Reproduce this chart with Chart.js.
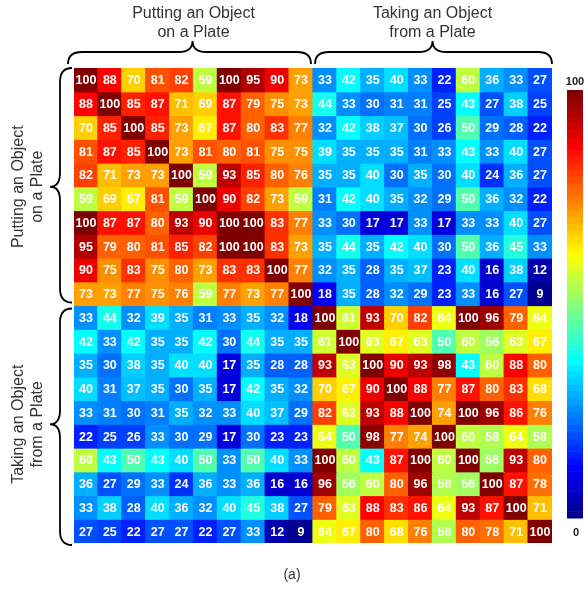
<!DOCTYPE html>
<html lang="en">

<head>
  <meta charset="UTF-8">
  <title>Heatmap</title>
  <style>
    body { margin: 0; background: #fff; }
  </style>
</head>

<body>
  <canvas id="grafico1" width="584" height="589"></canvas>

  <script src="https://cdn.jsdelivr.net/npm/chart.js"></script>

  <script>
    // grupos e valores (linha por linha, 20 colunas cada)
    const grupos = [["Putting an Object", "on a Plate"], ["Taking an Object", "from a Plate"]]
    const colunas = ["1","2","3","4","5","6","7","8","9","10","11","12","13","14","15","16","17","18","19","20"]

    const linha1  = [100,88,70,81,82,59,100,95,90,73, 33,42,35,40,33,22,60,36,33,27]
    const linha2  = [88,100,85,87,71,69,87,79,75,73, 44,33,30,31,31,25,43,27,38,25]
    const linha3  = [70,85,100,85,73,67,87,80,83,77, 32,42,38,37,30,26,50,29,28,22]
    const linha4  = [81,87,85,100,73,81,80,81,75,75, 39,35,35,35,31,33,43,33,40,27]
    const linha5  = [82,71,73,73,100,59,93,85,80,76, 35,35,40,30,35,30,40,24,36,27]
    const linha6  = [59,69,67,81,59,100,90,82,73,59, 31,42,40,35,32,29,50,36,32,22]
    const linha7  = [100,87,87,80,93,90,100,100,83,77, 33,30,17,17,33,17,33,33,40,27]
    const linha8  = [95,79,80,81,85,82,100,100,83,73, 35,44,35,42,40,30,50,36,45,33]
    const linha9  = [90,75,83,75,80,73,83,83,100,77, 32,35,28,35,37,23,40,16,38,12]
    const linha10 = [73,73,77,75,76,59,77,73,77,100, 18,35,28,32,29,23,33,16,27,9]
    const linha11 = [33,44,32,39,35,31,33,35,32,18, 100,61,93,70,82,64,100,96,79,64]
    const linha12 = [42,33,42,35,35,42,30,44,35,35, 61,100,63,67,63,50,60,56,63,67]
    const linha13 = [35,30,38,35,40,40,17,35,28,28, 93,63,100,90,93,98,43,60,88,80]
    const linha14 = [40,31,37,35,30,35,17,42,35,32, 70,67,90,100,88,77,87,80,83,68]
    const linha15 = [33,31,30,31,35,32,33,40,37,29, 82,63,93,88,100,74,100,96,86,76]
    const linha16 = [22,25,26,33,30,29,17,30,23,23, 64,50,98,77,74,100,60,58,64,58]
    const linha17 = [60,43,50,43,40,50,33,50,40,33, 100,60,43,87,100,60,100,56,93,80]
    const linha18 = [36,27,29,33,24,36,33,36,16,16, 96,56,60,80,96,58,56,100,87,78]
    const linha19 = [33,38,28,40,36,32,40,45,38,27, 79,63,88,83,86,64,93,87,100,71]
    const linha20 = [27,25,22,27,27,22,27,33,12,9, 64,67,80,68,76,58,80,78,71,100]

    const linhas = [linha1,linha2,linha3,linha4,linha5,linha6,linha7,linha8,linha9,linha10,
                    linha11,linha12,linha13,linha14,linha15,linha16,linha17,linha18,linha19,linha20]

    const escala = ["100", "0"]

    // jet(64) igual ao matlab
    let jet = (m) => {
      let n = Math.ceil(m / 4)
      let u = []
      for (let i = 1; i <= n; i++) u.push(i / n)
      for (let i = 1; i < n; i++) u.push(1)
      for (let i = n; i >= 1; i--) u.push(i / n)
      let off = Math.ceil(n / 2) - (m % 4 == 1 ? 1 : 0)
      let J = []
      for (let i = 0; i < m; i++) J.push([0, 0, 0])
      for (let k = 0; k < u.length; k++) {
        let g = off + k + 1
        let r = g + n
        let b = g - n
        if (r >= 1 && r <= m) J[r - 1][0] = u[k]
        if (g >= 1 && g <= m) J[g - 1][1] = u[k]
        if (b >= 1 && b <= m) J[b - 1][2] = u[k]
      }
      return J.map(c => `rgb(${Math.round(c[0]*255)},${Math.round(c[1]*255)},${Math.round(c[2]*255)})`)
    }
    const mapa = jet(64)

    const todos = linhas.flat()
    const vmin = Math.min(...todos)
    const vmax = Math.max(...todos)

    let cor = (v) => {
      let i = Math.floor((v - vmin) / (vmax - vmin) * 64)
      if (i > 63) i = 63
      if (i < 0) i = 0
      return mapa[i]
    }

    const datasets = linhas.map((linha, i) => ({
      label: 'linha ' + (i + 1),
      data: linha.map(() => 1),
      valores: linha,
      backgroundColor: linha.map(cor),
      borderWidth: 0,
      inflateAmount: 0.6,
      barPercentage: 1,
      categoryPercentage: 1
    }))

    const FONTE = '"Liberation Sans", Arial, sans-serif'

    let chave = (ctx, x1, x2, yFim, yMeio, yPonta, xm) => {
      // chave horizontal, pontas para baixo
      let q = 14
      ctx.beginPath()
      ctx.moveTo(x1, yFim)
      ctx.quadraticCurveTo(x1, yMeio, x1 + q, yMeio)
      ctx.lineTo(xm - q, yMeio)
      ctx.quadraticCurveTo(xm, yMeio, xm, yPonta)
      ctx.quadraticCurveTo(xm, yMeio, xm + q, yMeio)
      ctx.lineTo(x2 - q, yMeio)
      ctx.quadraticCurveTo(x2, yMeio, x2, yFim)
      ctx.stroke()
    }
    let chaveV = (ctx, y1, y2, xFim, xMeio, xPonta, ym) => {
      let q = 14
      ctx.beginPath()
      ctx.moveTo(xFim, y1)
      ctx.quadraticCurveTo(xMeio, y1, xMeio, y1 + q)
      ctx.lineTo(xMeio, ym - q)
      ctx.quadraticCurveTo(xMeio, ym, xPonta, ym)
      ctx.quadraticCurveTo(xMeio, ym, xMeio, ym + q)
      ctx.lineTo(xMeio, y2 - q)
      ctx.quadraticCurveTo(xMeio, y2, xFim, y2)
      ctx.stroke()
    }

    const extras = {
      id: 'extras',
      afterDatasetsDraw(chart) {
        const ctx = chart.ctx
        const area = chart.chartArea
        // numeros nas celulas
        ctx.save()
        ctx.fillStyle = '#fff'
        ctx.font = 'bold 12.5px ' + FONTE
        ctx.textAlign = 'center'
        ctx.textBaseline = 'middle'
        chart.data.datasets.forEach((ds, i) => {
          chart.getDatasetMeta(i).data.forEach((el, j) => {
            ctx.fillText(ds.valores[j], el.x, (el.y + el.base) / 2 + 1)
          })
        })
        ctx.restore()

        // barra de cores
        ctx.save()
        const cx = 567, cw = 16, ct = 90, cb = 518
        const h = (cb - ct) / 64
        for (let i = 0; i < 64; i++) {
          ctx.fillStyle = mapa[i]
          ctx.fillRect(cx, cb - (i + 1) * h, cw, h + 0.5)
        }
        ctx.fillStyle = '#222'
        ctx.font = 'bold 11px ' + FONTE
        ctx.textAlign = 'center'
        ctx.textBaseline = 'middle'
        ctx.fillText(escala[0], cx + 8, 82)
        ctx.fillText(escala[1], cx + 9, 533)
        ctx.restore()

        // chaves e titulos
        ctx.save()
        ctx.strokeStyle = '#000'
        ctx.lineWidth = 1.8
        const meioX = (area.left + area.right) / 2
        const meioY = (area.top + area.bottom) / 2
        chave(ctx, area.left - 6, meioX - 2, area.top - 4, area.top - 16, area.top - 27, (area.left + meioX) / 2 - 1)
        chave(ctx, meioX + 2, area.right, area.top - 4, area.top - 16, area.top - 27, (meioX + area.right) / 2)
        chaveV(ctx, area.top, meioY - 3, area.left - 2, area.left - 14, area.left - 24, (area.top + meioY) / 2)
        chaveV(ctx, meioY + 3, area.bottom + 2, area.left - 2, area.left - 14, area.left - 24, (meioY + area.bottom) / 2)

        ctx.fillStyle = '#333'
        ctx.font = '16px ' + FONTE
        ctx.textAlign = 'center'
        ctx.textBaseline = 'middle'
        let c1 = (area.left + meioX) / 2
        let c2 = (meioX + area.right) / 2
        ctx.fillText(grupos[0][0], c1, 14)
        ctx.fillText(grupos[0][1], c1, 33)
        ctx.fillText(grupos[1][0], c2, 14)
        ctx.fillText(grupos[1][1], c2, 33)

        let r1 = (area.top + meioY) / 2
        let r2 = (meioY + area.bottom) / 2
        ;[[grupos[0], r1], [grupos[1], r2]].forEach(([g, y]) => {
          ctx.save()
          ctx.translate(0, y)
          ctx.rotate(-Math.PI / 2)
          ctx.fillText(g[0], 0, 19)
          ctx.fillText(g[1], 0, 38)
          ctx.restore()
        })

        ctx.font = '14px ' + FONTE
        ctx.fillText('(a)', 292, 575)
        ctx.restore()
      }
    }

    const ctx = document.getElementById('grafico1')

    let grafico1 = new Chart(ctx, {
      type: 'bar',
      data: {
        labels: colunas,
        datasets: datasets
      },
      options: {
        responsive: false,
        animation: false,
        layout: {
          padding: { left: 74, right: 32, top: 68, bottom: 46 }
        },
        plugins: {
          legend: { display: false },
          tooltip: { enabled: false }
        },
        scales: {
          x: { stacked: true, display: false },
          y: { stacked: true, display: false, min: 0, max: 20, reverse: true }
        }
      },
      plugins: [extras]
    });
  </script>
</body>

</html>
